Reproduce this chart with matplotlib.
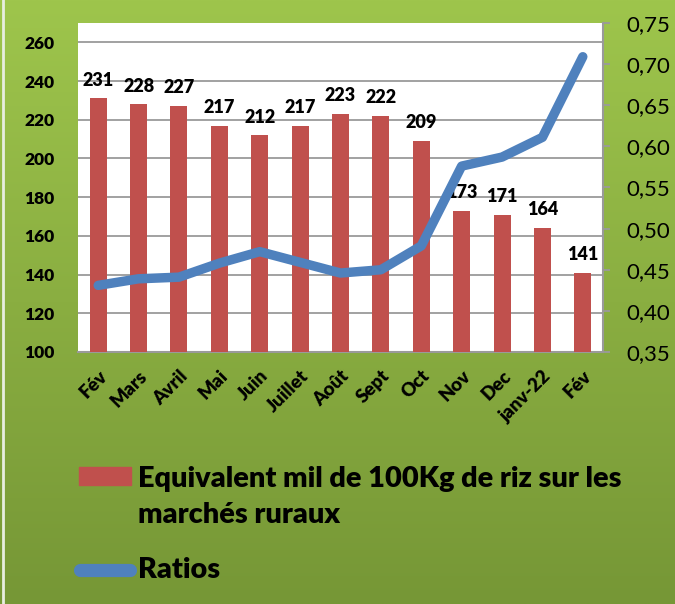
import matplotlib
matplotlib.use("Agg")
import matplotlib.pyplot as plt
import numpy as np
from matplotlib.patches import Rectangle
from matplotlib.lines import Line2D

months = ["Fév", "Mars", "Avril", "Mai", "Juin", "Juillet", "Août", "Sept", "Oct",
          "Nov", "Dec", "janv-22", "Fév"]
equiv_mil = [231, 228, 227, 217, 212, 217, 223, 222, 209, 173, 171, 164, 141]
ratios = [0.431, 0.439, 0.441, 0.458, 0.472, 0.459, 0.446, 0.450, 0.479,
          0.576, 0.587, 0.611, 0.709]
left_ticks = [100, 120, 140, 160, 180, 200, 220, 240, 260]
right_ticks = [0.35, 0.40, 0.45, 0.50, 0.55, 0.60, 0.65, 0.70, 0.75]
bar_label = "Equivalent mil de 100Kg de riz sur les\nmarchés ruraux"
line_label = "Ratios"

FONT = ["Lato", "DejaVu Sans"]
plt.rcParams["font.family"] = FONT
HW = "heavy"
RED = "#C0504D"
BLUE = "#4F81BD"

W, H = 675, 604
fig = plt.figure(figsize=(W / 100, H / 100), dpi=100)

# gradient background
bg = fig.add_axes([0, 0, 1, 1], zorder=-10)
top_c = np.array([0x9E, 0xC5, 0x4C]) / 255
bot_c = np.array([0x76, 0x97, 0x36]) / 255
t = np.linspace(0, 1, 256)[:, None]
grad = top_c[None, :] * (1 - t) + bot_c[None, :] * t
bg.imshow(np.repeat(grad[:, None, :], 2, axis=1), aspect="auto", extent=[0, 1, 0, 1])
bg.axvline(0.004, color="#e8eee0", lw=2)
bg.set_xlim(0, 1)
bg.set_ylim(0, 1)
bg.set_axis_off()

ax = fig.add_axes([78 / W, 1 - 352 / H, 525 / W, 329 / H])
ax.set_facecolor("white")
x = np.arange(len(months))
bars = ax.bar(x, equiv_mil, width=0.42, color=RED, zorder=3, label=bar_label)
ax.set_ylim(100, 270)
ax.set_xlim(-0.5, len(months) - 0.5)
ax.set_yticks(left_ticks)
ax.set_yticklabels([str(v) for v in left_ticks], fontsize=12.5, fontweight=HW)
ax.yaxis.grid(True, color="#9a9a9a", lw=1.3, zorder=0)
ax.tick_params(axis="y", length=0, pad=17)
ax.set_xticks(x)
ax.set_xticklabels(months, rotation=45, ha="right", rotation_mode="anchor",
                   fontsize=13.5, fontweight=HW)
ax.tick_params(axis="x", length=0, pad=11)
for s in ["top", "left", "right"]:
    ax.spines[s].set_visible(False)
ax.spines["bottom"].set_color("#9a9a9a")
ax.spines["bottom"].set_linewidth(1.5)

for xi, v in zip(x, equiv_mil):
    ax.annotate(str(v), (xi, v), xytext=(0, 7), textcoords="offset points",
                ha="center", va="bottom", fontsize=13, fontweight=HW)

ax2 = ax.twinx()
ax2.set_ylim(0.35, 0.75)
ax2.set_yticks(right_ticks)
ax2.set_yticklabels([f"{v:.2f}".replace(".", ",") for v in right_ticks], fontsize=16)
ax2.tick_params(axis="y", length=5, color="#9a9a9a", width=1.3, pad=12)
for s in ["top", "left", "bottom"]:
    ax2.spines[s].set_visible(False)
ax2.spines["right"].set_color("#9a9a9a")
ax2.spines["right"].set_linewidth(1.5)
line, = ax2.plot(x, ratios, color=BLUE, lw=6.8, solid_capstyle="round",
                 solid_joinstyle="round", zorder=5, label=line_label)

# legend drawn in figure pixel coordinates (handle aligned with first text line)
def fx(px):
    return px / W

def fy(py):
    return 1 - py / H

fig.patches.append(Rectangle((fx(79), fy(485)), fx(131) - fx(79), fy(467) - fy(485),
                             transform=fig.transFigure, color=RED, figure=fig))
fig.lines.append(Line2D([fx(80), fx(130)], [fy(570), fy(570)], transform=fig.transFigure,
                        color=BLUE, lw=9.5, solid_capstyle="round", figure=fig))
lines_txt = bar_label.split("\n")
fig.text(fx(138), fy(487), lines_txt[0], fontsize=20.8, fontweight=HW, va="baseline")
fig.text(fx(138), fy(523), lines_txt[1], fontsize=20.8, fontweight=HW, va="baseline")
fig.text(fx(138), fy(578), line_label, fontsize=20.8, fontweight=HW, va="baseline")

fig.savefig("out.png", dpi=100)
